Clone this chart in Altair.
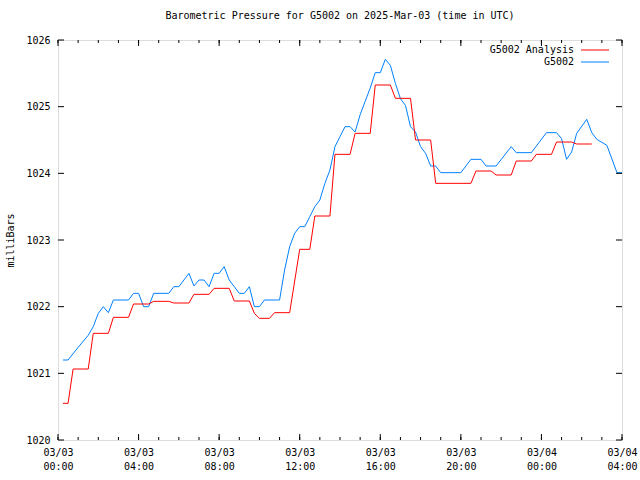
import altair as alt
import pandas as pd

# hours since 2025-03-03 00:00 UTC
obs_hours = [0.25, 0.5, 1.0, 1.5, 1.75, 2.0, 2.25, 2.5, 2.75, 3.5, 3.75, 4.0, 4.25, 4.5, 4.75,
             5.5, 5.75, 6.0, 6.5, 6.75, 7.0, 7.25, 7.5, 7.75, 8.0, 8.25, 8.5, 8.75, 9.0, 9.25,
             9.5, 9.75, 10.0, 10.25, 11.0, 11.25, 11.5, 11.75, 12.0, 12.25, 12.5, 12.75, 13.0,
             13.25, 13.5, 13.75, 14.0, 14.25, 14.5, 14.75, 15.0, 15.25, 15.5, 15.75, 16.0, 16.25,
             16.5, 16.75, 17.0, 17.25, 17.5, 17.75, 18.0, 18.25, 18.5, 18.75, 19.0, 20.0, 20.5,
             21.0, 21.25, 21.75, 22.5, 22.75, 23.5, 24.25, 24.75, 25.0, 25.25, 25.5, 25.75, 26.25,
             26.5, 26.75, 27.25, 27.75, 28.0]
obs_values = [1021.2, 1021.2, 1021.39, 1021.57, 1021.7, 1021.9, 1022.0, 1021.91, 1022.1, 1022.1,
              1022.2, 1022.2, 1022.0, 1022.0, 1022.2, 1022.2, 1022.3, 1022.3, 1022.5, 1022.31,
              1022.4, 1022.4, 1022.3, 1022.5, 1022.5, 1022.6, 1022.4, 1022.3, 1022.2, 1022.2,
              1022.3, 1022.0, 1022.0, 1022.1, 1022.1, 1022.55, 1022.9, 1023.1, 1023.2, 1023.2,
              1023.35, 1023.5, 1023.6, 1023.85, 1024.05, 1024.4, 1024.55, 1024.7, 1024.7, 1024.62,
              1024.88, 1025.08, 1025.28, 1025.51, 1025.51, 1025.71, 1025.62, 1025.35, 1025.12,
              1025.02, 1024.7, 1024.62, 1024.4, 1024.3, 1024.11, 1024.11, 1024.01, 1024.01,
              1024.21, 1024.21, 1024.11, 1024.11, 1024.4, 1024.31, 1024.31, 1024.61, 1024.61,
              1024.52, 1024.21, 1024.32, 1024.6, 1024.81, 1024.61, 1024.51, 1024.42, 1024.01,
              1024.01]

ana_hours = [0.25, 0.5, 0.75, 1.5, 1.75, 2.5, 2.75, 3.5, 3.75, 4.5, 4.75, 5.5, 5.75, 6.5, 6.75,
             7.5, 7.75, 8.5, 8.75, 9.5, 9.75, 10.0, 10.5, 10.75, 11.5, 12.0, 12.5, 12.75, 13.5,
             13.75, 14.5, 14.75, 15.5, 15.75, 16.5, 16.75, 17.5, 17.75, 18.5, 18.75, 20.5, 20.75,
             21.5, 21.75, 22.5, 22.75, 23.5, 23.75, 24.5, 24.75, 25.5, 25.75, 26.5]
ana_values = [1020.55, 1020.55, 1021.065, 1021.065, 1021.6, 1021.6, 1021.84, 1021.84, 1022.04,
              1022.04, 1022.08, 1022.08, 1022.055, 1022.055, 1022.185, 1022.185, 1022.275,
              1022.275, 1022.085, 1022.085, 1021.9, 1021.825, 1021.825, 1021.91, 1021.91,
              1022.86, 1022.86, 1023.36, 1023.36, 1024.285, 1024.285, 1024.6, 1024.6, 1025.325,
              1025.325, 1025.125, 1025.125, 1024.5, 1024.5, 1023.85, 1023.85, 1024.035, 1024.035,
              1023.975, 1023.975, 1024.185, 1024.185, 1024.285, 1024.285, 1024.47, 1024.47,
              1024.44, 1024.44]

series_names = ["G5002 Analysis", "G5002"]
series_colors = ["#ff0000", "#0080ff"]

x_major = [0, 4, 8, 12, 16, 20, 24, 28]
x_minor = list(range(0, 29))
y_ticks = [1020, 1021, 1022, 1023, 1024, 1025, 1026]

FONT = "DejaVu Sans Mono"
W, H = 564, 400

xs = alt.Scale(domain=[0, 28], nice=False, zero=False)
ys = alt.Scale(domain=[1020, 1026], nice=False, zero=False)

obs_df = pd.DataFrame({"h": obs_hours, "v": obs_values})
ana_df = pd.DataFrame({"h": ana_hours, "v": ana_values})

label_expr = ("[datum.value < 24 ? '03/03' : '03/04', "
              "((datum.value % 24) < 10 ? '0' : '') + (datum.value % 24) + ':00']")

base_line = alt.Chart(obs_df).mark_line(color=series_colors[1], strokeWidth=1).encode(
    x=alt.X("h:Q", scale=xs,
            axis=alt.Axis(values=x_major, labelExpr=label_expr, tickSize=0, domain=False,
                          grid=False, title=None, labelFont=FONT, labelFontSize=10,
                          labelColor="black", labelFlush=False, labelOverlap=False,
                          labelPadding=7, labelLineHeight=14)),
    y=alt.Y("v:Q", scale=ys,
            axis=alt.Axis(values=y_ticks, format="d", tickSize=0, domain=False, grid=False,
                          title="milliBars", titleFont=FONT, titleFontSize=10,
                          titleFontWeight="normal", titleColor="black", titleX=-48,
                          titleY=200, titleAngle=-90, titleAlign="center",
                          titleBaseline="middle", labelFont=FONT, labelFontSize=10,
                          labelColor="black", labelPadding=8, labelFlush=False)),
)

ana_line = alt.Chart(ana_df).mark_line(color=series_colors[0], strokeWidth=1).encode(
    x=alt.X("h:Q", scale=xs), y=alt.Y("v:Q", scale=ys)
)

major_df = pd.DataFrame({"h": x_major})
minor_df = pd.DataFrame({"h": x_minor})
ytick_df = pd.DataFrame({"v": y_ticks})

tick_style = dict(color="black", strokeWidth=1)
xt_major_b = alt.Chart(major_df).mark_rule(**tick_style).encode(
    x=alt.X("h:Q", scale=xs), y=alt.value(H), y2=alt.value(H - 6))
xt_major_t = alt.Chart(major_df).mark_rule(**tick_style).encode(
    x=alt.X("h:Q", scale=xs), y=alt.value(0), y2=alt.value(6))
xt_minor_b = alt.Chart(minor_df).mark_rule(**tick_style).encode(
    x=alt.X("h:Q", scale=xs), y=alt.value(H), y2=alt.value(H - 3))
xt_minor_t = alt.Chart(minor_df).mark_rule(**tick_style).encode(
    x=alt.X("h:Q", scale=xs), y=alt.value(0), y2=alt.value(3))
yt_l = alt.Chart(ytick_df).mark_rule(**tick_style).encode(
    y=alt.Y("v:Q", scale=ys), x=alt.value(0), x2=alt.value(6))
yt_r = alt.Chart(ytick_df).mark_rule(**tick_style).encode(
    y=alt.Y("v:Q", scale=ys), x=alt.value(W), x2=alt.value(W - 6))

legend_layers = []
for i, (name, col) in enumerate(zip(series_names, series_colors)):
    row_y = 10 + 12 * i
    one = pd.DataFrame({"name": [name]})
    legend_layers.append(
        alt.Chart(one).mark_text(font=FONT, fontSize=10, align="right", baseline="middle",
                                 color="black").encode(
            x=alt.value(516), y=alt.value(row_y), text="name:N"))
    legend_layers.append(
        alt.Chart(one).mark_rule(color=col, strokeWidth=1).encode(
            x=alt.value(523), x2=alt.value(551), y=alt.value(row_y)))

chart = alt.layer(
    base_line, ana_line, xt_major_b, xt_major_t, xt_minor_b, xt_minor_t, yt_l, yt_r,
    *legend_layers
).properties(
    width=W, height=H,
    title=alt.TitleParams("Barometric Pressure for G5002 on 2025-Mar-03 (time in UTC)",
                          font=FONT, fontSize=10, fontWeight="normal", color="black",
                          offset=14, anchor="middle"),
    autosize=alt.AutoSizeParams(type="none"),
    padding={"left": 58, "top": 40, "right": 18, "bottom": 40},
).configure_view(stroke="black", strokeWidth=1).configure(background="white")

chart.save("out.html", embed_options={"renderer": "svg", "actions": False})
